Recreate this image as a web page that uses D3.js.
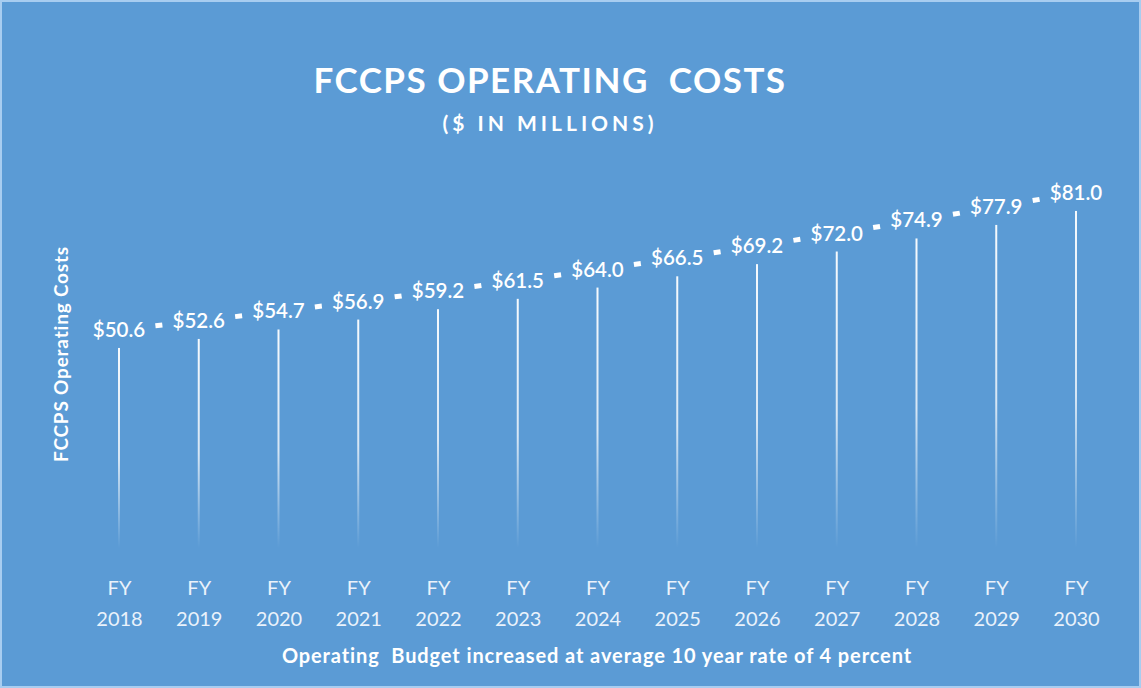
<!DOCTYPE html>
<html>
<head>
<meta charset="utf-8">
<script src="https://cdn.jsdelivr.net/npm/d3@7"></script>
<style>
  html, body { margin: 0; padding: 0; background: #5b9bd5; }
  svg { display: block; }
  text { fill: #ffffff; }
</style>
</head>
<body>
<script>
var w = 1141;
var h = 688;

// data
var years = ["2018", "2019", "2020", "2021", "2022", "2023", "2024", "2025", "2026", "2027", "2028", "2029", "2030"];
var costs = [50.6, 52.6, 54.7, 56.9, 59.2, 61.5, 64.0, 66.5, 69.2, 72.0, 74.9, 77.9, 81.0];
var chartTitle = "FCCPS OPERATING  COSTS";
var chartSubtitle = "($ IN MILLIONS)";
var yTitle = "FCCPS Operating Costs";
var xTitle = "Operating  Budget increased at average 10 year rate of 4 percent";

var dataset = years.map(function(y, i) { return { year: y, value: costs[i] }; });

var bg = "#5b9bd5";
var font = "Lato, 'Open Sans', sans-serif";

var svg = d3.select("body").append("svg")
  .attr("width", w)
  .attr("height", h);

// background + thin light frame
svg.append("rect")
  .attr("x", 0).attr("y", 0).attr("width", w).attr("height", h)
  .attr("fill", bg);
svg.append("rect")
  .attr("x", 1).attr("y", 1).attr("width", w - 2).attr("height", h - 2)
  .attr("fill", "none")
  .attr("stroke", "#a8cdf0")
  .attr("stroke-width", 2);

var defs = svg.append("defs");
var grad = defs.append("linearGradient")
  .attr("id", "dropFade")
  .attr("gradientUnits", "objectBoundingBox")
  .attr("x1", 0).attr("y1", 0).attr("x2", 0).attr("y2", 1);
grad.append("stop").attr("offset", "0%").attr("stop-color", "#ffffff").attr("stop-opacity", 0.95);
grad.append("stop").attr("offset", "55%").attr("stop-color", "#ffffff").attr("stop-opacity", 0.75);
grad.append("stop").attr("offset", "100%").attr("stop-color", "#ffffff").attr("stop-opacity", 0);

// scales
var xScale = d3.scalePoint()
  .domain(years)
  .range([119, 1076]);

var yScale = d3.scaleLinear()
  .domain([0, 90])
  .range([558, 152.4]);

// drop lines (rects so the gradient bbox works on vertical shapes)
svg.append("g").selectAll("rect.drop")
  .data(dataset)
  .enter().append("rect")
  .attr("class", "drop")
  .attr("x", function(d) { return xScale(d.year) - 1; })
  .attr("y", function(d) { return yScale(d.value) + 18; })
  .attr("width", 2)
  .attr("height", function(d) { return yScale(0) - 10 - (yScale(d.value) + 18); })
  .attr("fill", "url(#dropFade)");

// line: one short dash in the middle of each segment
var pairs = d3.pairs(dataset);
svg.append("g").selectAll("line.dash")
  .data(pairs)
  .enter().append("line")
  .attr("class", "dash")
  .each(function(p) {
    var x1 = xScale(p[0].year), y1 = yScale(p[0].value);
    var x2 = xScale(p[1].year), y2 = yScale(p[1].value);
    var mx = (x1 + x2) / 2, my = (y1 + y2) / 2;
    var len = Math.sqrt((x2 - x1) * (x2 - x1) + (y2 - y1) * (y2 - y1));
    var ux = (x2 - x1) / len, uy = (y2 - y1) / len;
    d3.select(this)
      .attr("x1", mx - ux * 3.5).attr("y1", my - uy * 3.5)
      .attr("x2", mx + ux * 3.5).attr("y2", my + uy * 3.5);
  })
  .attr("stroke", "#ffffff")
  .attr("stroke-width", 5);

// data labels
svg.append("g").selectAll("text.lbl")
  .data(dataset)
  .enter().append("text")
  .attr("class", "lbl")
  .attr("x", function(d) { return xScale(d.year); })
  .attr("y", function(d) { return yScale(d.value) + 7; })
  .attr("text-anchor", "middle")
  .style("font-family", font)
  .style("font-size", "20.5px")
  .style("font-weight", "600")
  .text(function(d) { return "$" + d.value.toFixed(1); });

// x axis labels (two lines)
var xAxis = d3.axisBottom(xScale).tickSize(0).tickPadding(0).tickFormat("");
var gx = svg.append("g")
  .attr("transform", "translate(0," + yScale(0) + ")")
  .call(xAxis);
gx.select(".domain").remove();
gx.selectAll(".tick").each(function(d) {
  var t = d3.select(this).append("text")
    .attr("text-anchor", "middle")
    .style("font-family", font)
    .style("font-size", "20px")
    .style("fill", "#eaf2fb");
  t.append("tspan").attr("x", 0).attr("y", 37).text("FY");
  t.append("tspan").attr("x", 0).attr("y", 68).text(d);
});

// titles
svg.append("text")
  .attr("x", 550).attr("y", 93)
  .attr("text-anchor", "middle")
  .style("font-family", font)
  .style("font-size", "35px")
  .style("font-weight", "700")
  .style("letter-spacing", "1.5px")
  .style("white-space", "pre")
  .text(chartTitle);

svg.append("text")
  .attr("x", 550).attr("y", 131)
  .attr("text-anchor", "middle")
  .style("font-family", font)
  .style("font-size", "21px")
  .style("font-weight", "700")
  .style("letter-spacing", "4px")
  .text(chartSubtitle);

svg.append("text")
  .attr("transform", "translate(68,354) rotate(-90)")
  .attr("text-anchor", "middle")
  .style("font-family", font)
  .style("font-size", "19px")
  .style("font-weight", "700")
  .style("letter-spacing", "0.8px")
  .text(yTitle);

svg.append("text")
  .attr("x", 597).attr("y", 663)
  .attr("text-anchor", "middle")
  .style("font-family", font)
  .style("font-size", "20px")
  .style("font-weight", "700")
  .style("letter-spacing", "0.9px")
  .style("white-space", "pre")
  .text(xTitle);
</script>
</body>
</html>
